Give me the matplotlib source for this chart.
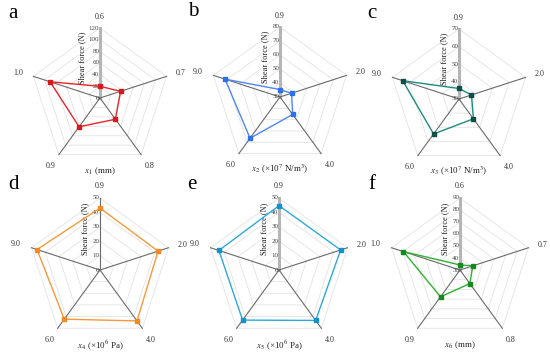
import numpy as np
import matplotlib.pyplot as plt

plt.rcParams['font.family'] = ['Liberation Serif', 'DejaVu Serif']
plt.rcParams['mathtext.fontset'] = 'stix'

# categories on each spoke, clockwise from top
cats_a = ['0.6', '0.7', '0.8', '0.9', '1.0']
cats_b = ['0.9', '2.0', '4.0', '6.0', '9.0']
cats_c = ['0.9', '2.0', '4.0', '6.0', '9.0']
cats_d = ['0.9', '2.0', '4.0', '6.0', '9.0']
cats_e = ['0.9', '2.0', '4.0', '6.0', '9.0']
cats_f = ['0.6', '0.7', '0.8', '0.9', '1.0']

# shear force (N)
vals_a = [20, 37, 45, 61, 90]
vals_b = [35.3, 38.7, 45.4, 66.4, 71.3]
vals_c = [36, 37.5, 44, 54.7, 63.8]
vals_d = [43, 42.4, 43.7, 42.2, 46]
vals_e = [44.7, 45, 43.3, 43, 43.9]
vals_f = [34.2, 41.2, 44, 57.6, 79.6]

ticks_a = [0, 20, 40, 60, 80, 100, 120]
ticks_b = [30, 40, 50, 60, 70, 80]
ticks_c = [30, 40, 50, 60, 70]
ticks_d = [0, 10, 20, 30, 40, 50]
ticks_e = [0, 10, 20, 30, 40, 50]
ticks_f = [30, 40, 50, 60, 70, 80, 90]

xlabels = ['$x_1$ (mm)', '$x_2$ (×10$^7$ N/m$^3$)', '$x_3$ (×10$^7$ N/m$^3$)',
           '$x_4$ (×10$^6$ Pa)', '$x_5$ (×10$^6$ Pa)', '$x_6$ (mm)']
letters = ['a', 'b', 'c', 'd', 'e', 'f']
line_colors = ['#e8252b', '#4f86f7', '#1c8a80', '#f7993a', '#2ba9dc', '#2fb12f']
mark_colors = ['#d7191c', '#2f6fe8', '#0a4f47', '#f08a24', '#1591c9', '#138a1c']

cats = [cats_a, cats_b, cats_c, cats_d, cats_e, cats_f]
vals = [vals_a, vals_b, vals_c, vals_d, vals_e, vals_f]
ticks = [ticks_a, ticks_b, ticks_c, ticks_d, ticks_e, ticks_f]

# panel centres in pixels
centers = [(100, 98), (280, 97), (459, 99), (100, 270), (279, 270), (460, 270)]
radii = [70, 70, 70, 72, 72, 72]

W, H = 550, 352
fig = plt.figure(figsize=(W / 100, H / 100), dpi=100)

ang = np.deg2rad(np.arange(5) * 72)
ang_c = np.append(ang, ang[0])

for i in range(6):
    cx, cy = centers[i]
    R = radii[i]
    ax = fig.add_axes([(cx - R) / W, 1 - (cy + R) / H, 2 * R / W, 2 * R / H], projection='polar')
    ax.set_theta_zero_location('N')
    ax.set_theta_direction(-1)
    rmin, rmax = ticks[i][0], ticks[i][-1]
    ax.set_ylim(rmin, rmax)
    ax.axis('off')
    span = rmax - rmin

    # pentagon grid
    for t in ticks[i][1:]:
        ax.plot(ang_c, [t] * 6, color='#e3e3e3', lw=0.6, zorder=1, clip_on=False)
    # spokes
    for k in range(5):
        if k == 0 and i != 3:
            ax.plot([0, 0], [rmin, rmax], color='#b5b5b5', lw=2.2, zorder=2, clip_on=False)
        else:
            ax.plot([ang[k], ang[k]], [rmin, rmax], color='#6a6a6a', lw=0.8, zorder=2, clip_on=False)

    # scale labels on top spoke
    for t in ticks[i]:
        ax.annotate(str(t), (0, t), xytext=(-0.5, 0), textcoords='offset points',
                    ha='right', va='center', fontsize=5, color='#444444')
    off = -12.5 if rmax >= 100 else -11
    ax.annotate('Shear force (N)', (0, rmin + 0.57 * span), xytext=(off, 0),
                textcoords='offset points', rotation=90, ha='center', va='center',
                fontsize=6, color='#222222')

    # category labels
    fs = 5.8
    for k in range(5):
        if k == 0:
            ax.text(0, rmin + 1.16 * span, cats[i][k], ha='center', va='center', fontsize=fs, color='#333333')
        elif k == 1:
            ax.text(ang[k], rmin + 1.14 * span, cats[i][k], ha='left', va='center', fontsize=fs, color='#333333')
        elif k == 4:
            ax.text(ang[k], rmin + 1.16 * span, cats[i][k], ha='right', va='center', fontsize=fs, color='#333333')
        else:
            ax.text(ang[k], rmin + 1.2 * span, cats[i][k], ha='center', va='center', fontsize=fs, color='#333333')

    ax.text(np.pi, rmin + 1.04 * span, xlabels[i], ha='center', va='center', fontsize=6.5, color='#222222')

    v = vals[i] + [vals[i][0]]
    ax.plot(ang_c, v, color=line_colors[i], lw=1, zorder=3, clip_on=False)
    ax.plot(ang, vals[i], 's', color=mark_colors[i], ms=2.2, zorder=4, clip_on=False)

    fig.text((cx - 92) / W, 1 - (cy - 85) / H, letters[i], fontsize=15, ha='left', va='center', color='black')

fig.savefig('out.png', dpi=100)
